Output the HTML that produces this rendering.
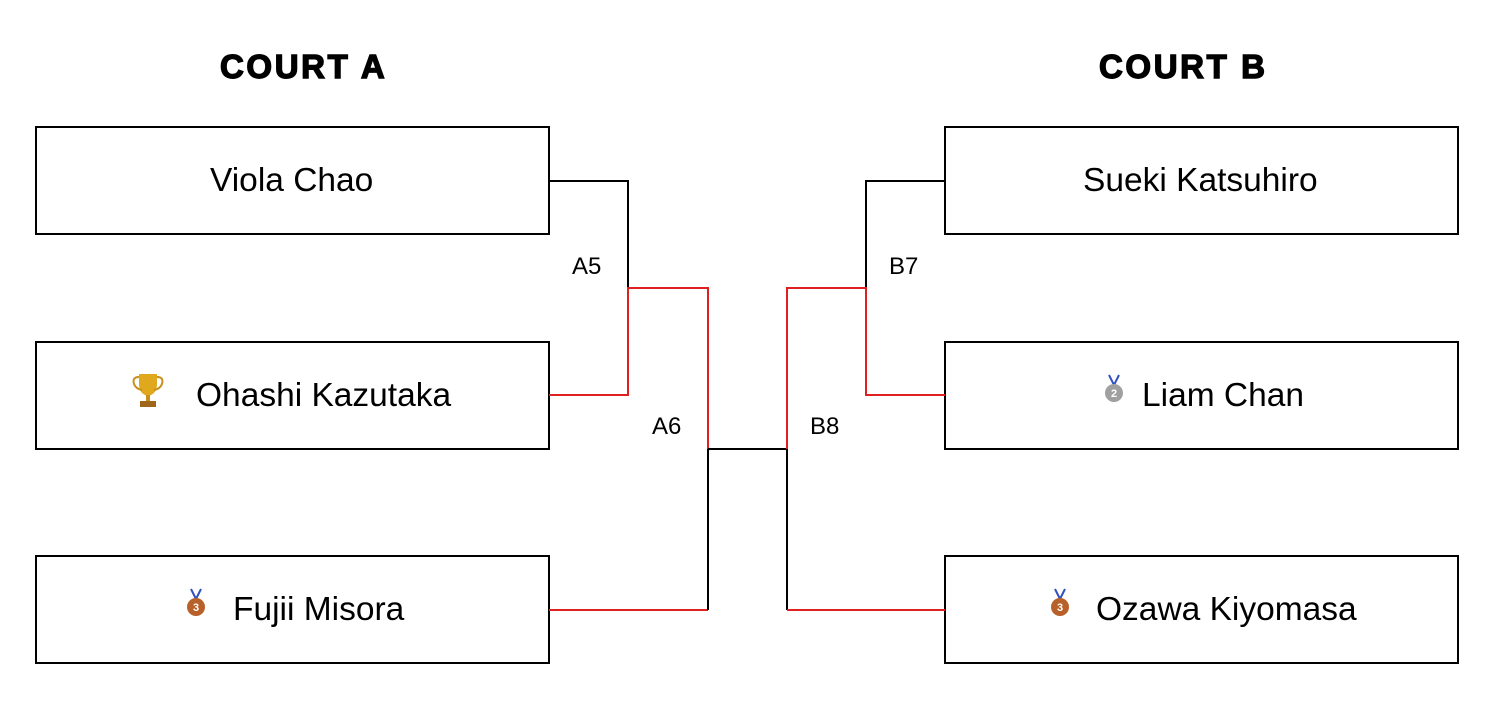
<!DOCTYPE html>
<html><head><meta charset="utf-8"><style>
body{margin:0;width:1500px;height:706px;background:#fff;position:relative;overflow:hidden;font-family:"Liberation Sans",Arial,sans-serif}
.t{position:absolute;font-weight:bold;font-size:33px;letter-spacing:2.6px;top:48px;color:#000;-webkit-text-stroke:1.4px #000}
.b{position:absolute;border:2px solid #000;box-sizing:border-box;width:515px;height:109px}
.n{position:absolute;font-size:33.5px;color:#000;white-space:nowrap;line-height:32px}
.l{position:absolute;font-size:24px;color:#000}
</style></head><body>
<div class="t" style="left:220px">COURT A</div>
<div class="t" style="left:1099px">COURT B</div>
<div class="b" style="left:35px;top:126px"></div>
<div class="b" style="left:35px;top:341px"></div>
<div class="b" style="left:35px;top:555px"></div>
<div class="b" style="left:944px;top:126px"></div>
<div class="b" style="left:944px;top:341px"></div>
<div class="b" style="left:944px;top:555px"></div>
<svg width="1500" height="706" style="position:absolute;left:0;top:0">
<g fill="none" stroke-width="2">
<path d="M549 181H628V288" stroke="#000"/>
<path d="M549 395H628V288H708V449" stroke="#e02020"/>
<path d="M549 610H708" stroke="#e02020"/>
<path d="M708 449V610M708 449H787V610" stroke="#000"/>
<path d="M945 181H866V288" stroke="#000"/>
<path d="M945 395H866V288H787V449" stroke="#e02020"/>
<path d="M787 610H945" stroke="#e02020"/>
</g>
<g transform="translate(148,390)">
<path d="M-9 -16H9V-6Q9 4 0 6Q-9 4 -9 -6Z" fill="#e0a81c"/>
<path d="M-9 -13Q-16 -13 -14 -6Q-12 -1 -6 0M9 -13Q16 -13 14 -6Q12 -1 6 0" stroke="#c8901a" stroke-width="2" fill="none"/>
<rect x="-2" y="5" width="4" height="6" fill="#c8901a"/>
<rect x="-8" y="11" width="16" height="6" fill="#a0661a"/>
</g>
<g transform="translate(196,607)"><path d="M-5 -18L0 -8L5 -18" stroke="#3050c0" stroke-width="2" fill="none"/><circle r="9" fill="#b8602a"/><text x="0" y="4" font-size="11" text-anchor="middle" fill="#fff" font-family="Liberation Sans" font-weight="bold">3</text></g>
<g transform="translate(1060,607)"><path d="M-5 -18L0 -8L5 -18" stroke="#3050c0" stroke-width="2" fill="none"/><circle r="9" fill="#b8602a"/><text x="0" y="4" font-size="11" text-anchor="middle" fill="#fff" font-family="Liberation Sans" font-weight="bold">3</text></g>
<g transform="translate(1114,393)"><path d="M-5 -18L0 -8L5 -18" stroke="#3050c0" stroke-width="2" fill="none"/><circle r="9" fill="#a0a0a0"/><text x="0" y="4" font-size="11" text-anchor="middle" fill="#fff" font-family="Liberation Sans" font-weight="bold">2</text></g>
</svg>
<div class="n" style="left:210px;top:165px">Viola Chao</div>
<div class="n" style="left:196px;top:380px">Ohashi Kazutaka</div>
<div class="n" style="left:233px;top:594px">Fujii Misora</div>
<div class="n" style="left:1083px;top:165px">Sueki Katsuhiro</div>
<div class="n" style="left:1142px;top:380px">Liam Chan</div>
<div class="n" style="left:1096px;top:594px">Ozawa Kiyomasa</div>
<div class="l" style="left:572px;top:253px">A5</div>
<div class="l" style="left:652px;top:413px">A6</div>
<div class="l" style="left:889px;top:253px">B7</div>
<div class="l" style="left:810px;top:413px">B8</div>
</body></html>
